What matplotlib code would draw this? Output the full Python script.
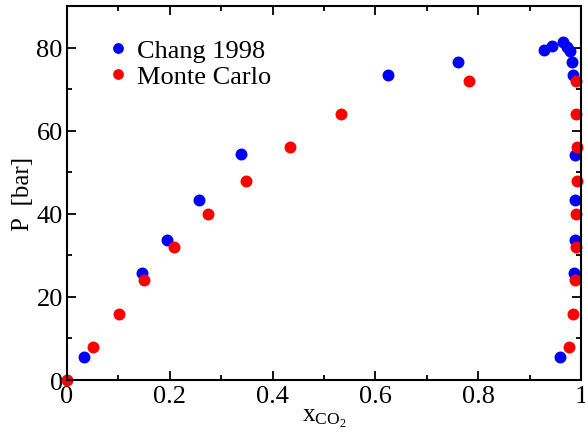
import numpy as np
import matplotlib
matplotlib.use("Agg")
import matplotlib.pyplot as plt
from matplotlib.ticker import MultipleLocator

plt.rcParams['font.family'] = ['Liberation Serif', 'DejaVu Serif']
plt.rcParams['mathtext.fontset'] = 'custom'
plt.rcParams['mathtext.rm'] = 'Liberation Serif'
plt.rcParams['mathtext.it'] = 'Liberation Serif'

# Chang 1998 experimental data
chang_x = [0.033, 0.145, 0.194, 0.256, 0.339, 0.625, 0.761, 0.928, 0.944, 0.966,
           0.973, 0.978, 0.982, 0.984, 0.988, 0.988, 0.988, 0.987, 0.960]
chang_p = [5.5, 25.8, 33.6, 43.3, 54.3, 73.4, 76.5, 79.4, 80.4, 81.3,
           80.2, 79.1, 76.6, 73.4, 54.2, 43.3, 33.7, 25.7, 5.5]

# Monte Carlo
mc_x = [0.0, 0.050, 0.102, 0.149, 0.208, 0.275, 0.348, 0.433, 0.533, 0.782,
        0.990, 0.990, 0.992, 0.992, 0.990, 0.990, 0.988, 0.985, 0.977]
mc_p = [0, 8, 16, 24, 32, 40, 48, 56, 64, 72,
        72, 64, 56, 48, 40, 32, 24, 16, 8]

fig = plt.figure(figsize=(5.85, 4.39), dpi=100)
ax = fig.add_axes([0.1145, 0.1321, 0.8785, 0.8519])

ax.plot(chang_x, chang_p, 'o', color='#0000ff', ms=8.6, mew=0, label='Chang 1998', clip_on=False)
ax.plot(mc_x, mc_p, 'o', color='#ff0000', ms=8.6, mew=0, label='Monte Carlo', clip_on=False)

ax.set_xlim(0, 1)
ax.set_ylim(0, 90)
ax.xaxis.set_minor_locator(MultipleLocator(0.1))
ax.yaxis.set_major_locator(MultipleLocator(20))
ax.yaxis.set_minor_locator(MultipleLocator(10))
ax.set_xticks([0, 0.2, 0.4, 0.6, 0.8, 1.0])
ax.set_xticklabels(['0', '0.2', '0.4', '0.6', '0.8', '1'])

ax.tick_params(which='both', direction='in', top=True, right=True, labelsize=19, width=1.3)
ax.tick_params(which='major', length=6.5)
ax.tick_params(axis='x', which='major', pad=3.5)
ax.tick_params(axis='y', which='major', pad=3)
ax.tick_params(which='minor', length=3.5)
for s in ax.spines.values():
    s.set_linewidth(1.5)

ax.set_xlabel(r'x$_{\mathregular{CO_2}}$', fontsize=18, labelpad=0)
ax.set_ylabel('P  [bar]', fontsize=18, labelpad=2)

ax.legend(loc='upper left', frameon=False, fontsize=19, handlelength=1.2,
          handletextpad=0.12, borderaxespad=0.3, labelspacing=0.08,
          markerscale=0.9, bbox_to_anchor=(0.032, 0.962))

fig.savefig('out.png', dpi=100)
